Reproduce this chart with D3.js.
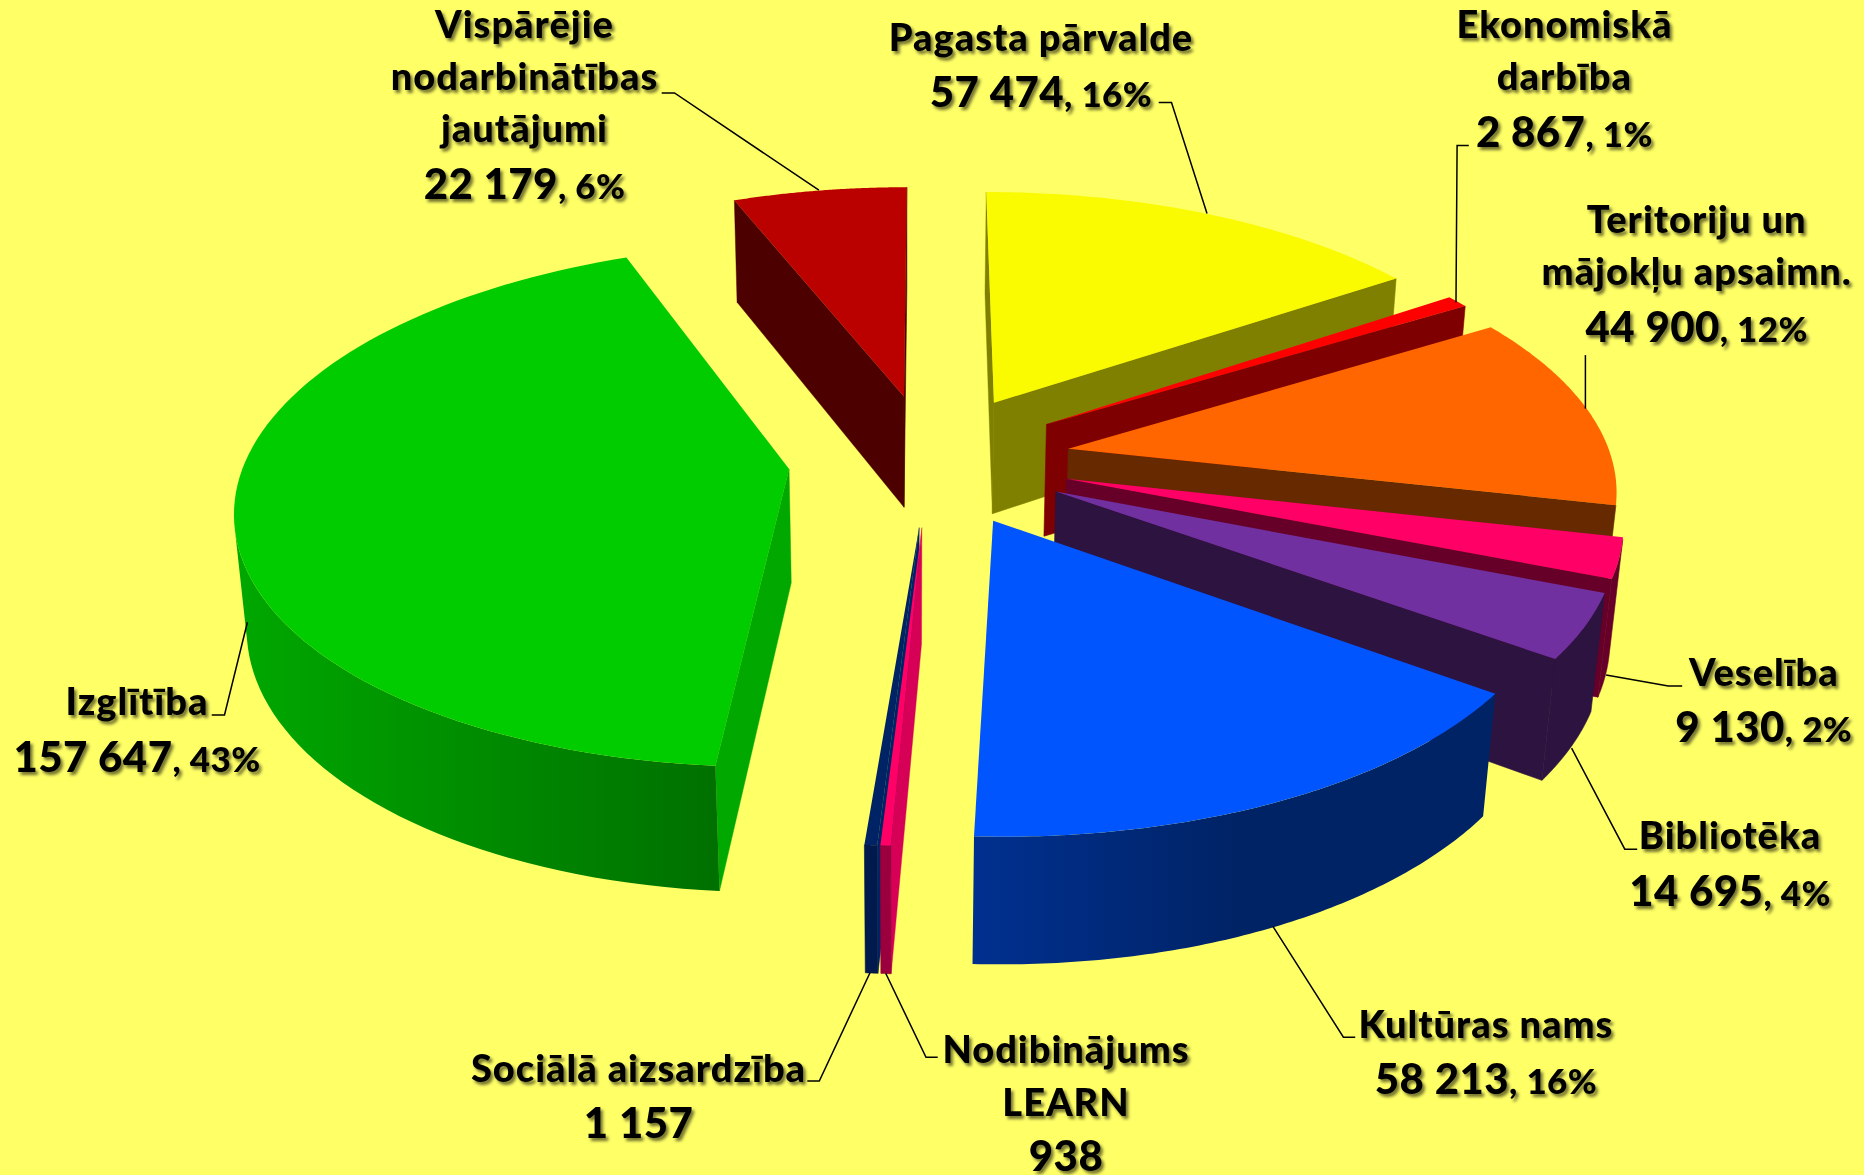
<!DOCTYPE html><html><head><meta charset="utf-8"><script src="https://d3js.org/d3.v7.min.js"></script>
<style>html,body{margin:0;background:#ffff66}svg{display:block}text{font-family:Lato,"Open Sans",sans-serif;font-weight:900;fill:#000}</style></head><body><svg width="1864" height="1175"></svg><script>
// Data, clockwise from the top of the pie
const categories=["Pagasta pārvalde","Ekonomiskā darbība","Teritoriju un mājokļu apsaimn.","Veselība","Bibliotēka","Kultūras nams","Nodibinājums LEARN","Sociālā aizsardzība","Izglītība","Vispārējie nodarbinātības jautājumi"];
const values=[57474,2867,44900,9130,14695,58213,938,1157,157647,22179];
const percentLabels=["16%","1%","12%","2%","4%","16%","","","43%","6%"];
const labelLines=[["Pagasta pārvalde"],["Ekonomiskā","darbība"],["Teritoriju un","mājokļu apsaimn."],["Veselība"],["Bibliotēka"],["Kultūras nams"],["Nodibinājums","LEARN"],["Sociālā aizsardzība"],["Izglītība"],["Vispārējie","nodarbinātības","jautājumi"]];
const topColors=["#fafa00","#ff0000","#ff6600","#ff0066","#7030a0","#0055ff","#ff0066","#002366","#00cc00","#bb0000"];
const wallColors=[["#808000"],["#7f0000"],["#662900"],["#660029"],["#2d1340"],["#003090","#002366","#002366"],["#99003d"],["#001a4d"],["#00a800","#007000"],["#4d0000"]];
const sideColors=["#808000","#7f0000","#662900","#660029","#2d1340","#002366","#d60056","#002366","#00a800","#4d0000"];

// Layout: camera of the exploded 3D pie, label baselines, leader lines
const startAngle=-6.5*Math.PI/180, explode=0.26, segments=90;
const H=[526.011,-188.258,16.971,929.620, 21.740,189.718,124.076,459.251, -0.015173,-0.136493,0.018727];
const paintOrder=[9,8,0,1,2,3,4,5,7,6];
const labelLayout=[
 {x:1041,base:[50.5],val:107,leader:[[1158.7,102.6],[1171.5,102.6],[1207,213.5]]},
 {x:1564.4,base:[38.3,90.3],val:147.3,leader:[[1468.8,145.4],[1457.1,145.4],[1456,302.3]]},
 {x:1696.7,base:[232.7,285],val:341.7,leader:[[1585.4,355.1],[1585.4,408.7]]},
 {x:1763.8,base:[686],val:742.4,leader:[[1682.2,686.1],[1668.3,686.1],[1606.1,675]]},
 {x:1730,base:[849.2],val:905.5,leader:[[1637.2,849.2],[1624.8,849.2],[1571.6,748.2]]},
 {x:1486,base:[1037.6],val:1094,leader:[[1355.2,1037.2],[1343.4,1037.2],[1272.9,926.4]]},
 {x:1066,base:[1063,1116],val:1170.6,leader:[[937.7,1057.3],[926,1057.3],[885.7,973.3]]},
 {x:638.5,base:[1081.7],val:1138,leader:[[807.3,1081],[819.3,1081],[870,972.7]]},
 {x:137,base:[715],val:771.7,leader:[[211.7,715],[224.5,715],[247.4,622.3]]},
 {x:524.5,base:[38,90.3,142.4],val:199,leader:[[661.7,93],[674.5,93],[818.9,190.2]]}];

const project=(U,V,Z)=>{const d=H[8]*U+H[9]*V+H[10]*Z+1;return[(H[0]*U+H[1]*V+H[2]*Z+H[3])/d,(H[4]*U+H[5]*V+H[6]*Z+H[7])/d];};
const fmt=d3.formatLocale({decimal:",",thousands:" ",grouping:[3],currency:["",""]}).format(",d");
const arcs=d3.pie().sort(null).startAngle(startAngle).endAngle(startAngle+2*Math.PI)(values);
const svg=d3.select("svg"),defs=svg.append("defs");
defs.append("filter").attr("id","shadow").attr("x","-10%").attr("y","-20%").attr("width","120%").attr("height","150%")
  .append("feDropShadow").attr("dx",2.5).attr("dy",3).attr("stdDeviation",1.8).attr("flood-color","#000").attr("flood-opacity",.55);
const line=d3.line(),pieG=svg.append("g");
paintOrder.forEach(i=>{
  const a=arcs[i],m=(a.startAngle+a.endAngle)/2,cu=explode*Math.sin(m),cv=-explode*Math.cos(m);
  const ts=d3.range(segments+1).map(k=>a.startAngle+(a.endAngle-a.startAngle)*k/segments);
  const rim=Z=>ts.map(t=>project(cu+Math.sin(t),cv-Math.cos(t),Z));
  const apexT=project(cu,cv,0),apexB=project(cu,cv,1),rT=rim(0),rB=rim(1);
  const g=pieG.append("g").attr("data-category",categories[i]);
  const last=wallColors[i][wallColors[i].length-1];
  // radial walls first, so that the outer wall meets them without a seam
  const startWall=[apexT,rT[0],rB[0],apexB],endWall=[apexT,rT[segments],rB[segments],apexB];
  if(d3.polygonArea(startWall)>0) g.append("path").attr("d",line(startWall)+"Z").attr("fill",sideColors[i]).attr("stroke",sideColors[i]).attr("stroke-width",.4);
  if(d3.polygonArea(endWall)<0) g.append("path").attr("d",line(endWall)+"Z").attr("fill",last).attr("stroke",last).attr("stroke-width",.6);
  // outer wall: only the segments facing the viewer
  const vis=d3.range(segments).filter(k=>d3.polygonArea([rT[k],rT[k+1],rB[k+1],rB[k]])>0);
  if(vis.length){
    const quad=[...vis.map(k=>rT[k]),rT[vis[vis.length-1]+1],rB[vis[vis.length-1]+1],...vis.slice().reverse().map(k=>rB[k])];
    let fill=wallColors[i][0];
    if(wallColors[i].length>1){
      const id="wall"+i,[x0,x1]=d3.extent(quad,p=>p[0]);
      const gr=defs.append("linearGradient").attr("id",id).attr("gradientUnits","userSpaceOnUse").attr("x1",x0).attr("x2",x1).attr("y1",0).attr("y2",0);
      wallColors[i].forEach((c,j,all)=>gr.append("stop").attr("offset",j/(all.length-1)).attr("stop-color",c));
      fill=`url(#${id})`;
    }
    g.append("path").attr("d",line(quad)+"Z").attr("fill",fill).attr("stroke",wallColors[i].length>1?"none":fill).attr("stroke-width",.6);
  }
  g.append("path").attr("d",line([apexT,...rT])+"Z").attr("fill",topColors[i]);
});
// leaders
svg.append("g").selectAll("path").data(labelLayout).join("path").attr("d",d=>line(d.leader)).attr("fill","none").attr("stroke","#000").attr("stroke-width",1.5);
// labels
const lab=svg.append("g").attr("filter","url(#shadow)");
categories.forEach((c,i)=>{
  const L=labelLayout[i];
  labelLines[i].forEach((s,j)=>lab.append("text").attr("x",L.x).attr("y",L.base[j]).attr("text-anchor","middle").attr("font-size",38).attr("letter-spacing",1).text(s));
  const t=lab.append("text").attr("x",L.x).attr("y",L.val).attr("text-anchor","middle").attr("letter-spacing",.4);
  t.append("tspan").attr("font-size",42).text(fmt(values[i]));
  if(percentLabels[i]){t.append("tspan").attr("font-size",35).text(", "+percentLabels[i]);}
});
</script></body></html>
